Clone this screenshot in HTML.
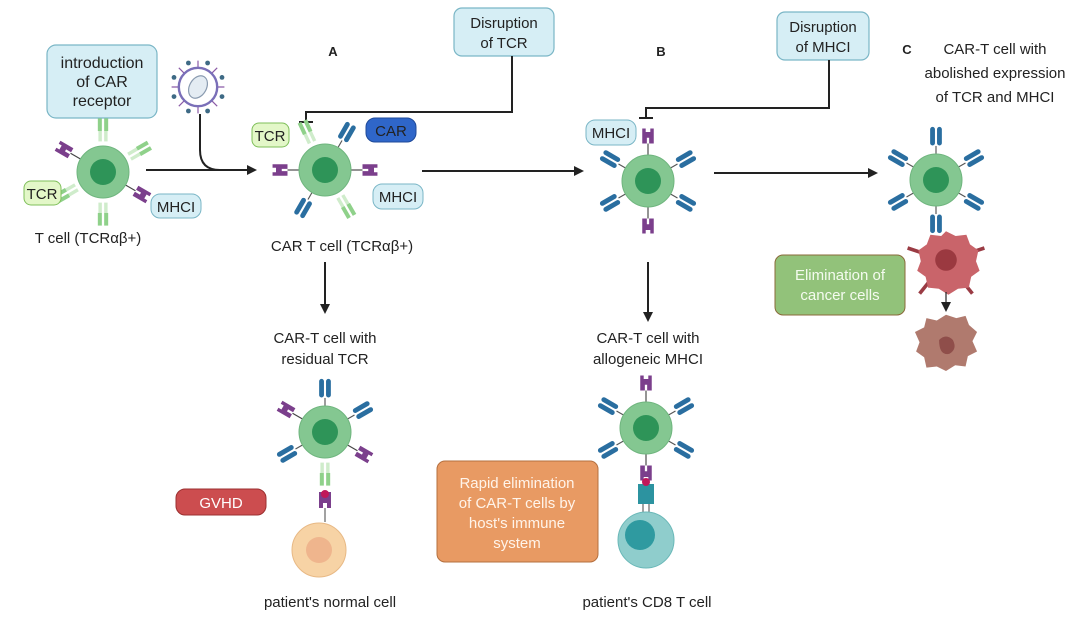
<!DOCTYPE html>
<html><head><meta charset="utf-8"><style>
html,body{margin:0;padding:0;background:#fff}
svg{display:block}
text{font-family:"Liberation Sans",sans-serif;fill:#222}
</style></head><body>
<svg width="1080" height="625" viewBox="0 0 1080 625" xmlns="http://www.w3.org/2000/svg">
<defs>
<marker id="ah" markerWidth="10" markerHeight="10" refX="8" refY="5" orient="auto" markerUnits="userSpaceOnUse"><path d="M0,0 L10,5 L0,10 z" fill="#222"/></marker>
<g id="tcr0"><rect x="-4" y="-13" width="3" height="9" fill="#cfeccb"/><rect x="1" y="-13" width="3" height="9" fill="#cfeccb"/><rect x="-4.5" y="-24" width="3.5" height="11" fill="#8fd18a"/><rect x="1" y="-24" width="3.5" height="11" fill="#8fd18a"/></g>
<g id="car0"><line x1="0" y1="0" x2="0" y2="-7" stroke="#555" stroke-width="1"/><rect x="-5.5" y="-24" width="5" height="17" rx="2.5" fill="#2a6ea0" stroke="#fff" stroke-width="0.8"/><rect x="0.5" y="-24" width="5" height="17" rx="2.5" fill="#2a6ea0" stroke="#fff" stroke-width="0.8"/></g>
<g id="mhc0"><line x1="0" y1="0" x2="0" y2="-10" stroke="#444" stroke-width="1"/><path d="M-5,-10 h4 v-5 h2 v5 h4 v-13 h-3 v3 h-4 v-3 h-3 z" fill="#7b3f8c"/></g>
<g id="tcr"><use href="#tcr0" transform="scale(1.15)"/></g>
<g id="car"><use href="#car0" transform="scale(1.15)"/></g>
<g id="mhc"><use href="#mhc0" transform="scale(1.15)"/></g>
<g id="cell"><circle r="26" fill="#84c791" stroke="#6fb57e" stroke-width="1"/><circle r="13" fill="#2e9458"/></g>
</defs>

<rect x="47" y="45" width="110" height="73" rx="9" fill="#d6eef5" stroke="#7ab6c6" stroke-width="1.2"/>
<text x="102" y="68" font-size="16" text-anchor="middle">introduction</text>
<text x="102" y="87" font-size="16" text-anchor="middle">of CAR</text>
<text x="102" y="106" font-size="16" text-anchor="middle">receptor</text>

<rect x="454" y="8" width="100" height="48" rx="8" fill="#d6eef5" stroke="#7ab6c6" stroke-width="1.2"/>
<text x="504" y="28" font-size="15" text-anchor="middle">Disruption</text>
<text x="504" y="48" font-size="15" text-anchor="middle">of TCR</text>

<rect x="777" y="12" width="92" height="48" rx="8" fill="#d6eef5" stroke="#7ab6c6" stroke-width="1.2"/>
<text x="823" y="32" font-size="15" text-anchor="middle">Disruption</text>
<text x="823" y="52" font-size="15" text-anchor="middle">of MHCI</text>

<text x="333" y="56" font-size="13" font-weight="bold" text-anchor="middle">A</text>
<text x="661" y="56" font-size="13" font-weight="bold" text-anchor="middle">B</text>
<text x="907" y="54" font-size="13" font-weight="bold" text-anchor="middle">C</text>
<text x="995" y="54" font-size="15" text-anchor="middle">CAR-T cell  with</text>
<text x="995" y="78" font-size="15" text-anchor="middle">abolished expression</text>
<text x="995" y="102" font-size="15" text-anchor="middle">of  TCR and MHCI</text>

<polyline points="512,56 512,112 306,112 306,122" fill="none" stroke="#222" stroke-width="2"/>
<line x1="299" y1="122" x2="313" y2="122" stroke="#222" stroke-width="2"/>
<polyline points="829,60 829,108 646,108 646,118" fill="none" stroke="#222" stroke-width="2"/>
<line x1="639" y1="118" x2="653" y2="118" stroke="#222" stroke-width="2"/>

<g transform="translate(198,87) scale(1.2)">
<g stroke="#8a5aa6" stroke-width="1">
<line x1="0" y1="-22" x2="0" y2="22"/><line x1="-22" y1="0" x2="22" y2="0"/><line x1="-16" y1="-16" x2="16" y2="16"/><line x1="-16" y1="16" x2="16" y2="-16"/>
</g>
<g fill="#3e6a85"><circle cx="8" cy="-20" r="2"/><circle cx="-8" cy="-20" r="2"/><circle cx="20" cy="-8" r="2"/><circle cx="20" cy="8" r="2"/><circle cx="-20" cy="8" r="2"/><circle cx="-20" cy="-8" r="2"/><circle cx="8" cy="20" r="2"/><circle cx="-8" cy="20" r="2"/></g>
<circle r="16" fill="#fff" stroke="#7a6fb8" stroke-width="2"/>
<ellipse rx="7" ry="10" transform="rotate(30)" fill="#e4ecf3" stroke="#8a9bb0"/>
</g>
<path d="M200,114 V150 Q200,170 220,170" fill="none" stroke="#222" stroke-width="2"/>
<line x1="146" y1="170" x2="255" y2="170" stroke="#222" stroke-width="2" marker-end="url(#ah)"/>

<g transform="translate(103,172)">
<use href="#tcr" transform="rotate(0) translate(0,-26)"/>
<use href="#tcr" transform="rotate(60) translate(0,-26)"/>
<use href="#tcr" transform="rotate(180) translate(0,-26)"/>
<use href="#tcr" transform="rotate(240) translate(0,-26)"/>
<use href="#mhc" transform="rotate(-60) translate(0,-26)"/>
<use href="#mhc" transform="rotate(120) translate(0,-26)"/>
<use href="#cell"/>
</g>
<rect x="24" y="181" width="37" height="24" rx="7" fill="#e3f7c8" stroke="#7fbf5a"/>
<text x="42" y="199" font-size="15" text-anchor="middle">TCR</text>
<rect x="151" y="194" width="50" height="24" rx="9" fill="#d6eef5" stroke="#7ab6c6"/>
<text x="176" y="212" font-size="15" text-anchor="middle">MHCI</text>
<text x="88" y="243" font-size="15" text-anchor="middle">T cell (TCRαβ+)</text>

<g transform="translate(325,170)">
<use href="#tcr" transform="rotate(-25) translate(0,-26)"/>
<use href="#car" transform="rotate(30) translate(0,-26)"/>
<use href="#mhc" transform="rotate(-90) translate(0,-26)"/>
<use href="#mhc" transform="rotate(90) translate(0,-26)"/>
<use href="#car" transform="rotate(210) translate(0,-26)"/>
<use href="#tcr" transform="rotate(150) translate(0,-26)"/>
<use href="#cell"/>
</g>
<rect x="252" y="123" width="37" height="24" rx="7" fill="#e3f7c8" stroke="#7fbf5a"/>
<text x="270" y="141" font-size="15" text-anchor="middle">TCR</text>
<rect x="366" y="118" width="50" height="24" rx="9" fill="#2f66c9" stroke="#1f4a99"/>
<text x="391" y="136" font-size="15" text-anchor="middle">CAR</text>
<rect x="373" y="184" width="50" height="25" rx="9" fill="#d6eef5" stroke="#7ab6c6"/>
<text x="398" y="202" font-size="15" text-anchor="middle">MHCI</text>
<text x="342" y="251" font-size="15" text-anchor="middle">CAR T cell (TCRαβ+)</text>

<line x1="422" y1="171" x2="582" y2="171" stroke="#222" stroke-width="2" marker-end="url(#ah)"/>
<line x1="714" y1="173" x2="876" y2="173" stroke="#222" stroke-width="2" marker-end="url(#ah)"/>
<line x1="325" y1="262" x2="325" y2="312" stroke="#222" stroke-width="2" marker-end="url(#ah)"/>
<line x1="648" y1="262" x2="648" y2="320" stroke="#222" stroke-width="2" marker-end="url(#ah)"/>

<g transform="translate(648,181)">
<use href="#mhc" transform="rotate(0) translate(0,-26)"/>
<use href="#mhc" transform="rotate(180) translate(0,-26)"/>
<use href="#car" transform="rotate(60) translate(0,-26)"/>
<use href="#car" transform="rotate(120) translate(0,-26)"/>
<use href="#car" transform="rotate(240) translate(0,-26)"/>
<use href="#car" transform="rotate(300) translate(0,-26)"/>
<use href="#cell"/>
</g>
<rect x="586" y="120" width="50" height="25" rx="9" fill="#d6eef5" stroke="#7ab6c6"/>
<text x="611" y="138" font-size="15" text-anchor="middle">MHCI</text>

<g transform="translate(936,180)">
<use href="#car" transform="rotate(0) translate(0,-26)"/>
<use href="#car" transform="rotate(60) translate(0,-26)"/>
<use href="#car" transform="rotate(120) translate(0,-26)"/>
<use href="#car" transform="rotate(180) translate(0,-26)"/>
<use href="#car" transform="rotate(240) translate(0,-26)"/>
<use href="#car" transform="rotate(300) translate(0,-26)"/>
<use href="#cell"/>
</g>
<g transform="translate(946,260) scale(1.2) translate(-946,-258)">
<g transform="translate(946,258)" stroke="#9a3b44" stroke-width="3">
<line x1="-32" y1="-10" x2="-20" y2="-6"/><line x1="20" y1="-6" x2="32" y2="-10"/><line x1="-22" y1="28" x2="-14" y2="18"/><line x1="14" y1="18" x2="22" y2="28"/>
</g>
<path d="M946,234 l8,4 l9,-1 l3,8 l7,5 l-2,9 l3,8 l-7,5 l-2,9 l-9,1 l-8,5 l-8,-5 l-9,-1 l-2,-9 l-7,-5 l3,-8 l-2,-9 l7,-5 l3,-8 l9,1 z" fill="#c9646a"/>
<circle cx="946" cy="258" r="9" fill="#9b3940"/>
</g>
<line x1="946" y1="292" x2="946" y2="310" stroke="#222" stroke-width="1.2" marker-end="url(#ah)"/>
<g transform="translate(946,340) scale(1.15) translate(-946,-336)">
<path d="M946,314 l9,3 l8,-2 l3,8 l7,6 l-4,8 l4,9 l-8,4 l-2,9 l-9,-1 l-8,5 l-8,-4 l-9,1 l-2,-9 l-7,-5 l3,-8 l-4,-9 l8,-4 l2,-8 l9,2 z" fill="#b07a6e"/>
<path d="M940,336 q6,-6 12,0 q4,8 -3,12 q-9,2 -9,-12z" fill="#8f4e4a"/>
</g>
<rect x="775" y="255" width="130" height="60" rx="8" fill="#92c27a" stroke="#8a6a3a"/>
<text x="840" y="280" font-size="15" text-anchor="middle" style="fill:#f4fbef">Elimination of</text>
<text x="840" y="300" font-size="15" text-anchor="middle" style="fill:#f4fbef">cancer cells</text>

<text x="325" y="343" font-size="15" text-anchor="middle">CAR-T cell with</text>
<text x="325" y="364" font-size="15" text-anchor="middle">residual TCR</text>
<g transform="translate(325,432)">
<use href="#car" transform="rotate(0) translate(0,-26)"/>
<use href="#car" transform="rotate(60) translate(0,-26)"/>
<use href="#car" transform="rotate(240) translate(0,-26)"/>
<use href="#mhc" transform="rotate(-60) translate(0,-26)"/>
<use href="#mhc" transform="rotate(120) translate(0,-26)"/>
<use href="#tcr" transform="rotate(180) translate(0,-26)"/>
<use href="#cell"/>
</g>
<path d="M319,508 h4 v-5 h4 v5 h4 v-16 h-12 z" fill="#7b3f8c"/>
<circle cx="325" cy="494" r="4" fill="#c0185a"/>
<line x1="325" y1="508" x2="325" y2="522" stroke="#444"/>
<circle cx="319" cy="550" r="27" fill="#f7d3a5" stroke="#e8b985"/>
<circle cx="319" cy="550" r="13" fill="#efb58d"/>
<rect x="176" y="489" width="90" height="26" rx="9" fill="#cc4d4f" stroke="#9b3030"/>
<text x="221" y="508" font-size="15" text-anchor="middle" style="fill:#fff">GVHD</text>
<text x="330" y="607" font-size="15" text-anchor="middle">patient's normal cell</text>

<text x="648" y="343" font-size="15" text-anchor="middle">CAR-T cell with</text>
<text x="648" y="364" font-size="15" text-anchor="middle">allogeneic MHCI</text>
<g transform="translate(646,428)">
<use href="#mhc" transform="rotate(0) translate(0,-26)"/>
<use href="#car" transform="rotate(60) translate(0,-26)"/>
<use href="#car" transform="rotate(120) translate(0,-26)"/>
<use href="#car" transform="rotate(240) translate(0,-26)"/>
<use href="#car" transform="rotate(300) translate(0,-26)"/>
<use href="#mhc" transform="rotate(180) translate(0,-26)"/>
<use href="#cell"/>
</g>
<rect x="638" y="484" width="16" height="20" fill="#2c93a0"/>
<circle cx="646" cy="482" r="4" fill="#c0185a"/>
<line x1="643" y1="504" x2="643" y2="514" stroke="#444"/><line x1="649" y1="504" x2="649" y2="514" stroke="#444"/>
<circle cx="646" cy="540" r="28" fill="#8fcdcc" stroke="#6ab8b8"/>
<circle cx="640" cy="535" r="15" fill="#2f9aa0"/>
<rect x="437" y="461" width="161" height="101" rx="8" fill="#e89a63" stroke="#b5703f"/>
<text x="517" y="488" font-size="15" text-anchor="middle" style="fill:#fff4ea">Rapid elimination</text>
<text x="517" y="508" font-size="15" text-anchor="middle" style="fill:#fff4ea">of CAR-T cells by</text>
<text x="517" y="528" font-size="15" text-anchor="middle" style="fill:#fff4ea">host's immune</text>
<text x="517" y="548" font-size="15" text-anchor="middle" style="fill:#fff4ea">system</text>
<text x="647" y="607" font-size="15" text-anchor="middle">patient's CD8 T cell</text>
</svg>
</body></html>
